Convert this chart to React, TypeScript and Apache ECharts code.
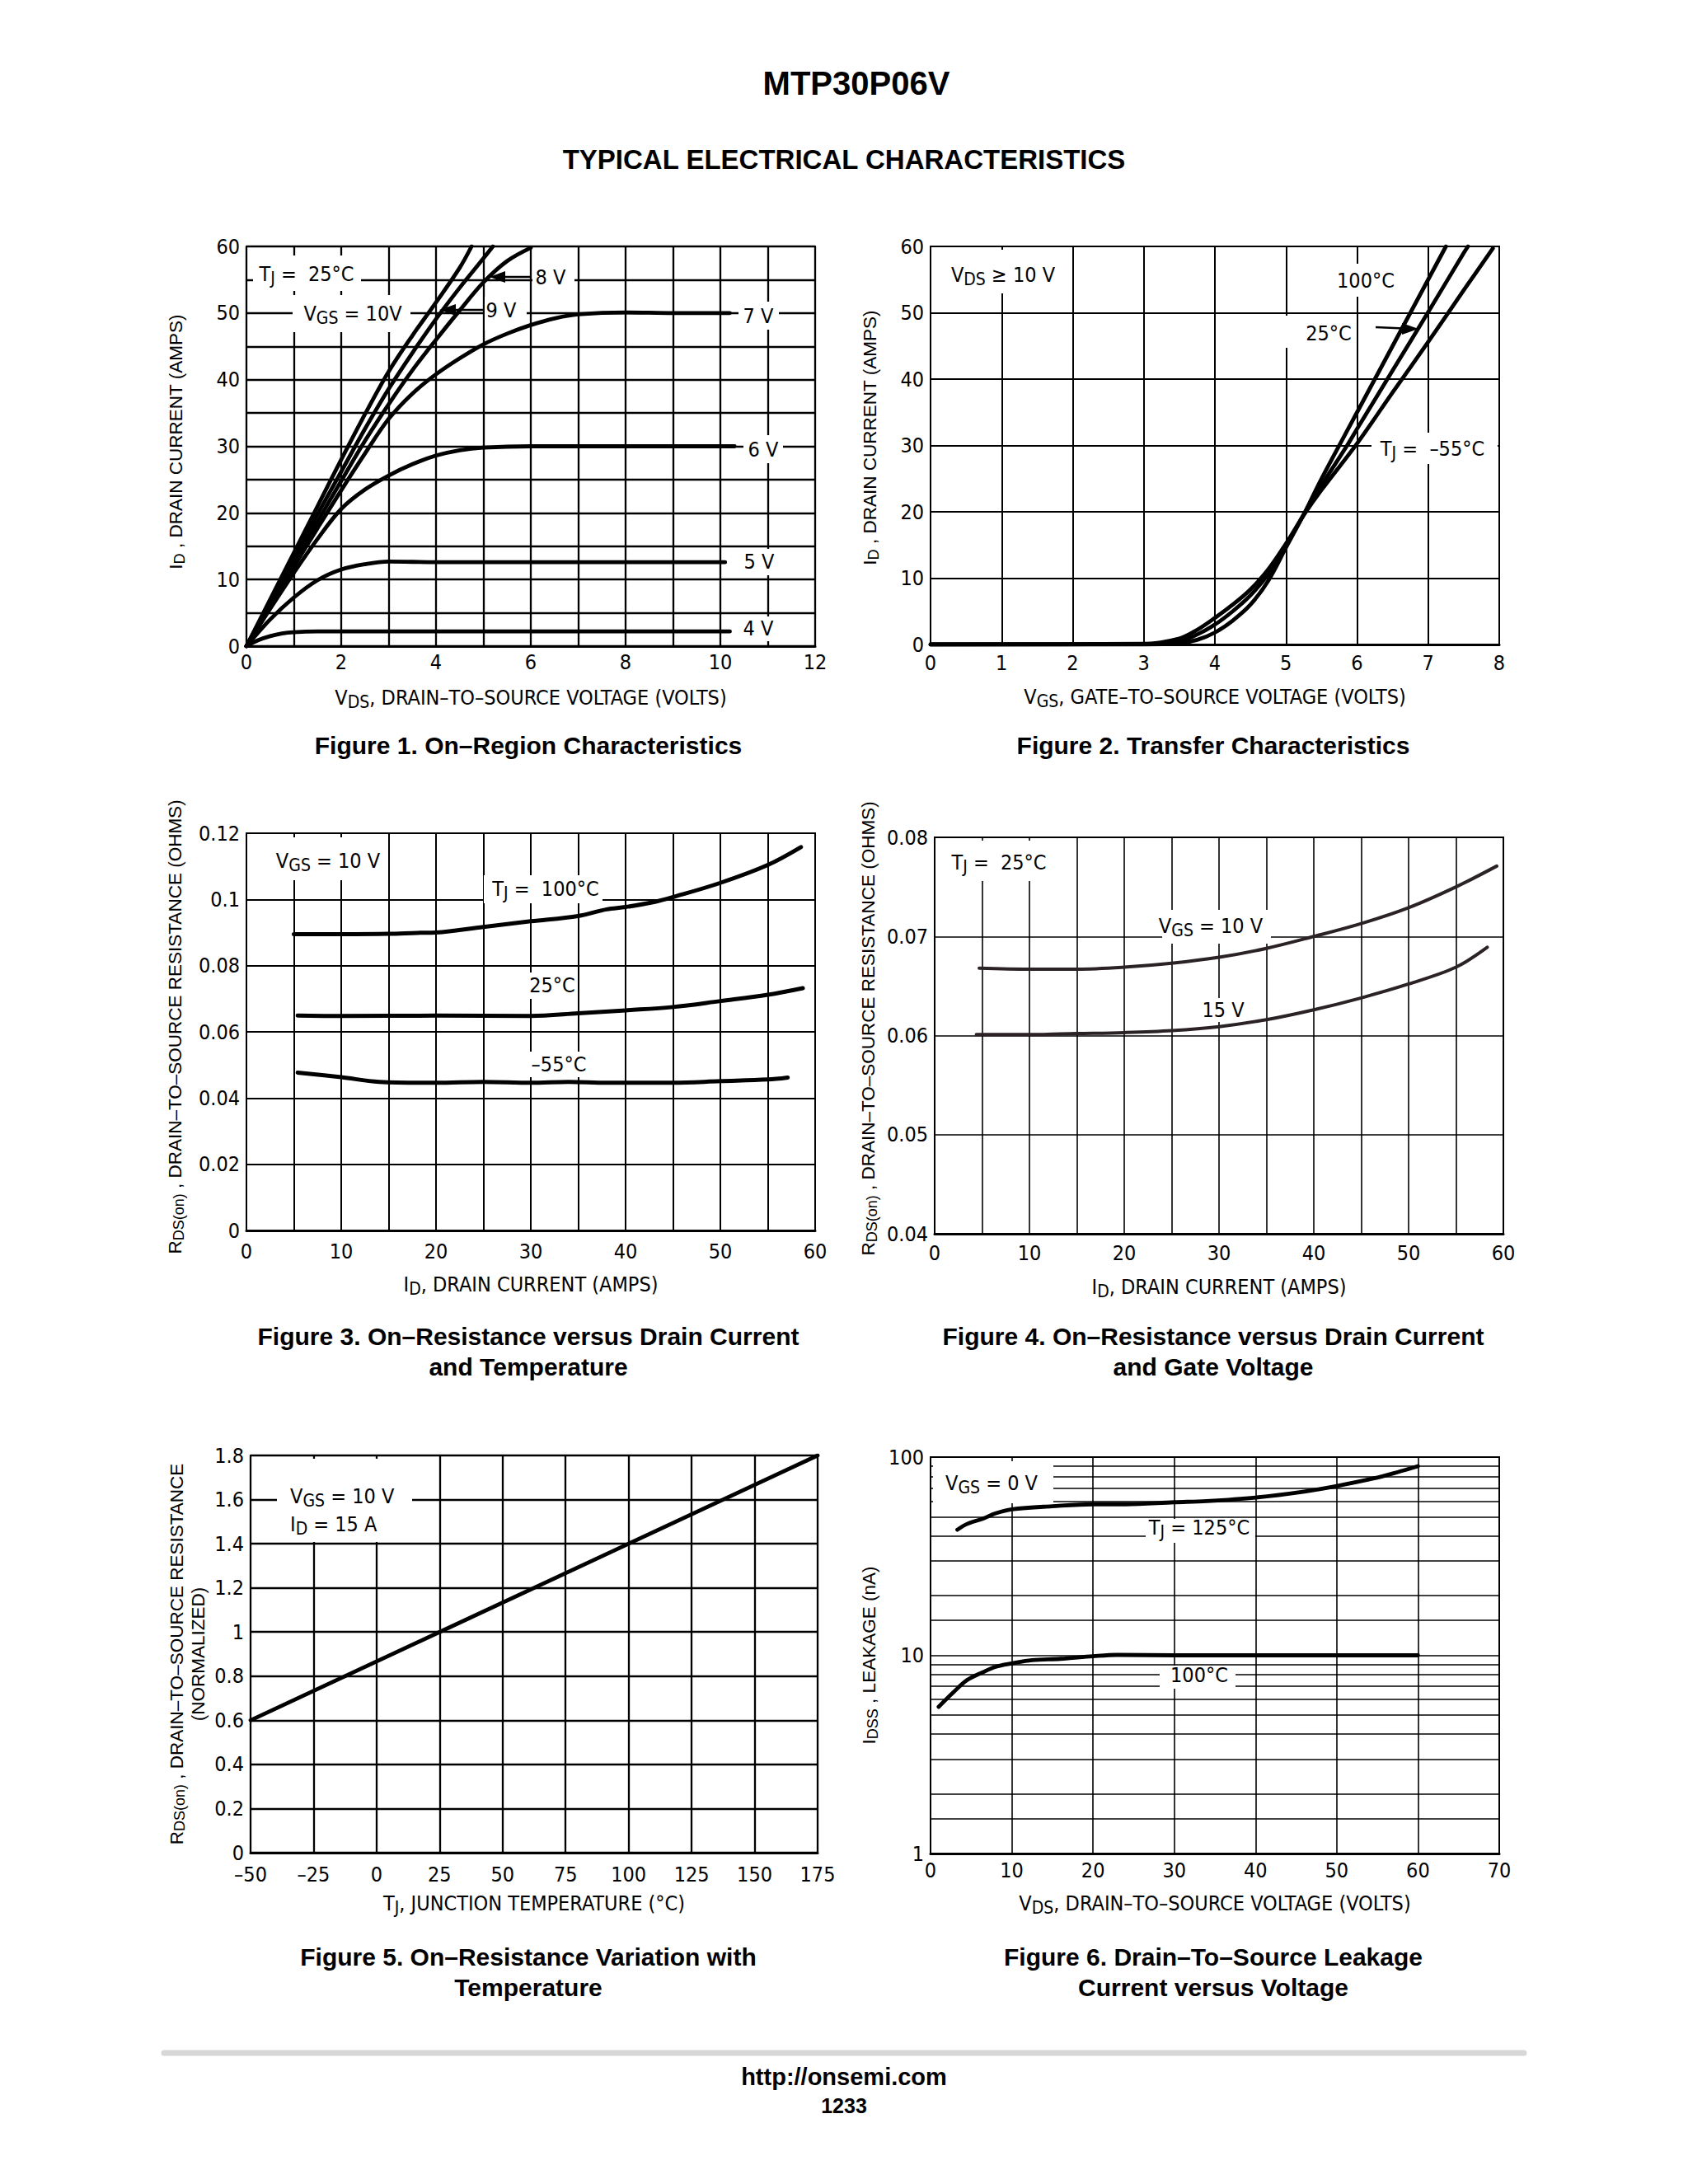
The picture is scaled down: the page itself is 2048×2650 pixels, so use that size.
import React, { useEffect, useRef } from 'react';
import * as echarts from 'echarts';

const NARROW = "'Liberation Sans Narrow', 'Arial Narrow', 'DejaVu Sans Condensed', 'Liberation Sans', Arial, sans-serif";
const REG = "'Liberation Sans', Arial, Helvetica, sans-serif";
const INK = '#000';

// ---------- Figure 1: On-Region Characteristics (VDS V, ID A) ----------
const fig1Vgs10 = [[0,0],[0.5,7],[1,14],[1.5,21],[2,28],[2.5,34.8],[3,41.2],[3.5,46.6],[4,51.6],[4.5,56.8],[4.75,60]];
const fig1Vgs9 = [[0,0],[0.5,6.6],[1,13.2],[1.5,19.8],[2,26.2],[2.5,32.6],[3,38.6],[3.5,44],[4,49.1],[4.5,53.8],[5,58.2],[5.2,60]];
const fig1Vgs8 = [[0,0],[0.5,6.3],[1,12.5],[1.5,18.7],[2,24.8],[2.5,30.8],[3,36.3],[3.5,41.4],[4,46],[4.5,50.4],[5,54.6],[5.5,57.8],[6,59.8]];
const fig1Vgs7 = [[0,0],[0.5,6],[1,11.9],[1.5,17.7],[2,23.4],[2.5,28.9],[3,34.1],[3.5,37.9],[4,40.8],[4.5,43.2],[5,45.3],[5.5,46.9],[6,48.2],[6.5,49.2],[7,49.8],[8,50.1],[9,50],[10.2,50]];
const fig1Vgs6 = [[0,0],[0.5,5.6],[1,11],[1.5,16.1],[2,20.6],[2.5,23.5],[3,25.6],[3.5,27.3],[4,28.6],[4.5,29.4],[5,29.8],[6,30],[8,30],[10.3,30]];
const fig1Vgs5 = [[0,0],[0.5,4],[1,7.3],[1.5,9.9],[2,11.5],[2.5,12.3],[3,12.7],[4,12.6],[10.1,12.6]];
const fig1Vgs4 = [[0,0],[0.25,0.9],[0.5,1.5],[0.75,1.9],[1,2.1],[1.5,2.2],[10.2,2.2]];

// ---------- Figure 2: Transfer Characteristics (VGS V, ID A) ----------
const fig2T100 = [[0,0],[3,0],[3.5,0.2],[3.75,0.7],[4,1.8],[4.25,3.6],[4.5,6],[4.75,9.6],[5,14.6],[5.25,19.6],[5.5,25],[6,35],[6.5,45],[7,55],[7.25,60]];
const fig2T25 = [[0,0],[3,0.05],[3.5,0.5],[3.75,1.5],[4,3],[4.25,5],[4.5,7.4],[4.75,10.6],[5,14.9],[5.25,19.6],[5.5,24],[5.86,30],[6,32.5],[6.5,41.3],[7,50.1],[7.5,59],[7.56,60]];
const fig2Tm55 = [[0,0],[3,0.1],[3.5,0.9],[3.75,2.2],[4,4],[4.25,6],[4.5,8.3],[4.75,11.3],[5,15.2],[5.25,19.5],[5.5,23.3],[6,30.3],[6.5,38],[7,45.6],[7.5,53.4],[7.91,59.7]];

// ---------- Figure 3: RDS(on) vs ID and temperature ----------
const fig3T100 = [[5,0.0895],[10,0.0895],[15,0.0896],[18,0.0899],[20,0.09],[25,0.0917],[30,0.0934],[35,0.095],[38,0.097],[40,0.0977],[43,0.0992],[45,0.1007],[50,0.105],[55,0.1104],[58.5,0.1158]];
const fig3T25 = [[5.4,0.0649],[10,0.0648],[20,0.0649],[30,0.0648],[35,0.0656],[40,0.0665],[45,0.0675],[50,0.0693],[55,0.0712],[58.7,0.0732]];
const fig3Tm55 = [[5.4,0.0477],[10,0.0463],[14,0.0449],[20,0.0446],[25,0.0449],[30,0.0446],[34,0.0449],[38,0.0446],[45,0.0446],[50,0.0451],[55,0.0456],[57.1,0.0462]];

// ---------- Figure 4: RDS(on) vs ID and gate voltage ----------
const fig4Vgs10 = [[4.7,0.0668],[10,0.0667],[15,0.0667],[20,0.0669],[25,0.0673],[30,0.0679],[35,0.0688],[40,0.07],[45,0.0713],[50,0.0729],[55,0.075],[59.3,0.0771]];
const fig4Vgs15 = [[4.4,0.0601],[10,0.0601],[15,0.0602],[20,0.0603],[25,0.0605],[30,0.0609],[35,0.0616],[40,0.0626],[45,0.0638],[50,0.0652],[55,0.0669],[58.3,0.0689]];

// ---------- Figure 5: normalized RDS(on) vs TJ ----------
const fig5Norm = [[-50,0.6],[25,1.0],[100,1.4],[175,1.8]];

// ---------- Figure 6: IDSS leakage vs VDS (log) ----------
const fig6T125 = [[3.3,43],[4.5,46],[6.5,49],[8,52],[10,54.5],[15,56.5],[20,57.8],[24,57.8],[30,59.2],[34,60],[40,62.5],[46,67],[50,71.5],[54.5,78],[57.5,84],[60,90]];
const fig6T100 = [[1,5.5],[2.8,6.5],[4.5,7.5],[6.4,8.2],[8,8.75],[10,9.1],[12.5,9.45],[16,9.6],[20,9.9],[23,10.05],[30,10],[40,10],[50,10],[60,10]];
const fig6MinorGrid = [1.5,2,3,4,5,6,7,8,9,15,20,30,40,50,60,70,80,90];

// axis ranges [min, max, interval]
const fig1X = [0, 12, 1], fig1Y = [0, 60, 5];
const fig2X = [0, 8, 1], fig2Y = [0, 60, 10];
const fig3X = [0, 60, 5], fig3Y = [0, 0.12, 0.02];
const fig4X = [0, 60, 5], fig4Y = [0.04, 0.08, 0.01];
const fig5X = [-50, 175, 25], fig5Y = [0, 1.8, 0.2];
const fig6X = [0, 70, 10], fig6Y = [1, 100];

const GRIDS = [
  { left: 299, top: 299, width: 690, height: 485 },
  { left: 1129, top: 299, width: 690, height: 483 },
  { left: 299, top: 1011, width: 690, height: 482 },
  { left: 1134, top: 1016, width: 690, height: 481 },
  { left: 304, top: 1766, width: 688, height: 482 },
  { left: 1129, top: 1768, width: 690, height: 481 },
];

const TICK_FS = 25;

const RICH_G: any = {
  n: { fontFamily: NARROW, fontSize: 25, lineHeight: 32, verticalAlign: 'middle', fill: INK, color: INK },
  s: { fontFamily: NARROW, fontSize: 21, lineHeight: 20, verticalAlign: 'bottom', fill: INK, color: INK },
};
const RICH_Y: any = {
  n: { fontFamily: REG, fontSize: 22.5, lineHeight: 28, verticalAlign: 'middle', color: INK },
  s: { fontFamily: REG, fontSize: 18, lineHeight: 16, verticalAlign: 'bottom', color: INK },
};
const RICH_Y2: any = {
  n: { fontFamily: REG, fontSize: 22.5, lineHeight: 26, verticalAlign: 'middle', color: INK },
  s: { fontFamily: REG, fontSize: 18, lineHeight: 14, verticalAlign: 'bottom', color: INK },
};

const sub = (a: string, s: string, b: string) => `{n|${a}}{s|${s}}{n|${b}}`;

function xAx(gi: number, r: number[], fmt: any, name: string, nameGap: number, margin: number, gw: number) {
  return {
    type: 'value', gridIndex: gi, min: r[0], max: r[1], interval: r[2],
    axisLine: { show: true, onZero: false, lineStyle: { color: INK, width: 3 } },
    axisTick: { show: false },
    splitLine: { show: true, lineStyle: { color: INK, width: gw } },
    axisLabel: { formatter: fmt, color: INK, fontFamily: NARROW, fontSize: TICK_FS, margin, showMinLabel: true, showMaxLabel: true },
    name, nameLocation: 'middle', nameGap, nameMoveOverlap: false,
    nameTextStyle: { rich: RICH_G, color: INK, fontFamily: NARROW, fontSize: 25 },
  };
}
function yAx(gi: number, r: number[], fmt: any, name: string, nameGap: number, gw: number, padUp: number, rich: any, log = false) {
  const base: any = {
    type: log ? 'log' : 'value', gridIndex: gi, min: r[0], max: r[1],
    axisLine: { show: true, onZero: false, lineStyle: { color: INK, width: 2 } },
    axisTick: { show: false },
    splitLine: { show: true, lineStyle: { color: INK, width: gw } },
    axisLabel: { formatter: fmt, color: INK, fontFamily: NARROW, fontSize: TICK_FS, lineHeight: 22, margin: 8, showMinLabel: true, showMaxLabel: true },
    name, nameLocation: 'middle', nameGap, nameRotate: 90, nameMoveOverlap: false,
    nameTextStyle: { rich, color: INK, fontFamily: REG, fontSize: 22.5, padding: [0, 0, 0, padUp] },
  };
  if (log) base.logBase = 10; else base.interval = r[2];
  return base;
}

const evenOnly = (step: number) => (v: number) => (Math.round(v) % step === 0 ? String(Math.round(v)) : '');
const trimNum = (v: number) => String(parseFloat(v.toFixed(3)));

function line(gi: number, data: number[][], width: number, color = INK, smooth: any = 0.35) {
  return {
    type: 'line', xAxisIndex: gi, yAxisIndex: gi, data, showSymbol: false, symbol: 'none',
    smooth, silent: true, z: 3,
    lineStyle: { color, width, cap: 'round', join: 'round' },
  };
}

const box = (x: number, y: number, w: number, h: number) => ({
  type: 'rect', z: 2, silent: true, shape: { x, y, width: w, height: h }, style: { fill: '#fff' },
});
const txt = (x: number, y: number, text: string, align = 'center') => ({
  type: 'text', z: 10, silent: true, x, y,
  style: { text, rich: RICH_G, align, verticalAlign: 'middle', fill: INK, fontFamily: NARROW, fontSize: 25 },
});
const arrow = (x1: number, x2: number, y1: number, y2: number, tipX: number, tipY: number) => [
  { type: 'line', z: 10, silent: true, shape: { x1, y1, x2, y2 }, style: { stroke: INK, lineWidth: 2.5 } },
  { type: 'polygon', z: 10, silent: true, shape: { points: [[tipX, tipY], [x1 + (x1 < x2 ? 2 : -2), tipY - 7], [x1 + (x1 < x2 ? 2 : -2), tipY + 7]] }, style: { fill: INK } },
];

function buildOption() {
  const capStyle = (size: number, lh: number) => ({ fontFamily: REG, fontWeight: 'bold', fontSize: size, lineHeight: lh, color: INK });
  const cap = (text: string, left: number, top: number, size = 30, lh = 37) => ({
    text, left, top, textAlign: 'center', padding: 0, textStyle: capStyle(size, lh),
  });

  const graphic: any[] = [
    // Figure 1 labels
    box(307, 310, 131, 43), txt(372, 332, sub('T', 'J', ' =  25°C')),
    box(355, 358, 143, 45), txt(428, 380, sub('V', 'GS', ' = 10V')),
    box(646, 318, 51, 38), txt(668, 336, '{n|8 V}'),
    box(588, 360, 51, 41), txt(608, 376, '{n|9 V}'),
    ...arrow(611, 643, 336, 336, 594, 336),
    ...arrow(551, 587, 376, 376, 533, 376),
    box(896, 366, 49, 34), txt(920, 383, '{n|7 V}'),
    box(902, 528, 48, 34), txt(926, 545, '{n|6 V}'),
    box(900, 666, 46, 32), txt(921, 681, '{n|5 V}'),
    box(900, 748, 46, 30), txt(920, 762, '{n|4 V}'),
    // Figure 2 labels
    box(1140, 303, 152, 53), txt(1217, 333, sub('V', 'DS', ' ≥ 10 V')),
    box(1614, 320, 88, 40), txt(1657, 340, '{n|100°C}'),
    box(1559, 383, 87, 39), txt(1612, 404, '{n|25°C}'),
    ...arrow(1703, 1669, 398.5, 397, 1721, 399),
    box(1664, 525, 153, 38), txt(1738, 544, sub('T', 'J', ' =  –55°C')),
    // Figure 3 labels
    box(332, 1016, 133, 52), txt(398, 1044, sub('V', 'GS', ' = 10 V')),
    box(587, 1062, 144, 34), txt(662, 1078, sub('T', 'J', ' =  100°C')),
    box(638, 1180, 61, 32), txt(670, 1195, '{n|25°C}'),
    box(638, 1276, 74, 31), txt(678, 1291, '{n|–55°C}'),
    // Figure 4 labels
    box(1150, 1020, 122, 49), txt(1212, 1046, sub('T', 'J', ' =  25°C')),
    box(1410, 1104, 132, 41), txt(1469, 1123, sub('V', 'GS', ' = 10 V')),
    box(1458, 1211, 52, 29), txt(1484, 1225, '{n|15 V}'),
    // Figure 5 labels
    box(336, 1770, 164, 101),
    txt(352, 1815, sub('V', 'GS', ' = 10 V'), 'left'),
    txt(352, 1849, sub('I', 'D', ' = 15 A'), 'left'),
    // Figure 6 labels
    box(1132, 1773, 146, 51), txt(1203, 1799, sub('V', 'GS', ' = 0 V')),
    box(1390, 1843, 133, 29), txt(1455, 1853, sub('T', 'J', ' = 125°C')),
    box(1407, 2021, 92, 28), txt(1455, 2032, '{n|100°C}'),
    // footer rule
    { type: 'line', z: 1, silent: true, shape: { x1: 199, y1: 2491, x2: 1849, y2: 2491 }, style: { stroke: '#d7d7d7', lineWidth: 7, lineCap: 'round' } },
  ];

  return {
    animation: false,
    backgroundColor: '#fff',
    title: [
      cap('MTP30P06V', 1039, 77, 40, 48),
      cap('TYPICAL ELECTRICAL CHARACTERISTICS', 1024, 173, 33, 40),
      cap('Figure 1. On–Region Characteristics', 641, 886),
      cap('Figure 2. Transfer Characteristics', 1472, 886),
      cap('Figure 3. On–Resistance versus Drain Current\nand Temperature', 641, 1603),
      cap('Figure 4. On–Resistance versus Drain Current\nand Gate Voltage', 1472, 1603),
      cap('Figure 5. On–Resistance Variation with\nTemperature', 641, 2356),
      cap('Figure 6. Drain–To–Source Leakage\nCurrent versus Voltage', 1472, 2356),
      cap('http://onsemi.com', 1024, 2503, 29, 34),
      cap('1233', 1024, 2540, 25, 30),
    ],
    grid: GRIDS.map((g) => ({ ...g, show: true, borderColor: INK, borderWidth: 2, containLabel: false, outerBoundsMode: 'none' })),
    xAxis: [
      xAx(0, fig1X, evenOnly(2), sub('V', 'DS', ', DRAIN–TO–SOURCE VOLTAGE (VOLTS)'), 46, 7, 2.3),
      xAx(1, fig2X, (v: number) => String(v), sub('V', 'GS', ', GATE–TO–SOURCE VOLTAGE (VOLTS)'), 47, 10, 2),
      xAx(2, fig3X, evenOnly(10), sub('I', 'D', ', DRAIN CURRENT (AMPS)'), 49, 13, 2),
      xAx(3, fig4X, evenOnly(10), sub('I', 'D', ', DRAIN CURRENT (AMPS)'), 48, 11, 1.6),
      xAx(4, fig5X, (v: number) => (v < 0 ? '–' + Math.abs(v) : String(v)), sub('T', 'J', ', JUNCTION TEMPERATURE (°C)'), 45, 14, 2.3),
      xAx(5, fig6X, (v: number) => String(v), sub('V', 'DS', ', DRAIN–TO–SOURCE VOLTAGE (VOLTS)'), 44, 8, 1.6),
    ],
    yAxis: [
      yAx(0, fig1Y, evenOnly(10), sub('I', 'D', ' , DRAIN CURRENT (AMPS)'), 72, 2.3, 11, RICH_Y),
      yAx(1, fig2Y, (v: number) => String(v), sub('I', 'D', ' , DRAIN CURRENT (AMPS)'), 60, 2, 19, RICH_Y),
      yAx(2, fig3Y, trimNum, sub('R', 'DS(on)', ' , DRAIN–TO–SOURCE RESISTANCE (OHMS)'), 73, 2, 12, RICH_Y),
      yAx(3, fig4Y, (v: number) => v.toFixed(2), sub('R', 'DS(on)', ' , DRAIN–TO–SOURCE RESISTANCE (OHMS)'), 67, 1.6, 17, RICH_Y),
      yAx(4, fig5Y, trimNum, sub('R', 'DS(on)', ' , DRAIN–TO–SOURCE RESISTANCE') + '\n{n|(NORMALIZED)}', 51, 2.3, 0, RICH_Y2),
      yAx(5, fig6Y, (v: number) => String(v), sub('I', 'DSS', ' , LEAKAGE (nA)'), 61, 1.6, 0, RICH_Y, true),
    ],
    series: [
      line(0, fig1Vgs10, 4.8), line(0, fig1Vgs9, 4.8), line(0, fig1Vgs8, 4.8), line(0, fig1Vgs7, 4.8),
      line(0, fig1Vgs6, 4.8), line(0, fig1Vgs5, 4.8), line(0, fig1Vgs4, 4.8),
      line(1, fig2T100, 4.8), line(1, fig2T25, 4.8), line(1, fig2Tm55, 4.8),
      line(2, fig3T100, 5), line(2, fig3T25, 5), line(2, fig3Tm55, 5),
      line(3, fig4Vgs10, 4, '#2b2226'), line(3, fig4Vgs15, 4, '#2b2226'),
      line(4, fig5Norm, 4.8, INK, false),
      {
        ...line(5, fig6T125, 4.8),
        markLine: {
          z: 1, silent: true, symbol: 'none', label: { show: false },
          lineStyle: { color: INK, width: 1.6, type: 'solid' },
          emphasis: { disabled: true },
          data: fig6MinorGrid.map((v) => ({ yAxis: v })),
        },
      },
      line(5, fig6T100, 4.8),
    ],
    graphic,
  };
}

export default function App() {
  const ref = useRef<HTMLDivElement>(null);
  useEffect(() => {
    document.body.style.margin = '0';
    const chart = echarts.init(ref.current as HTMLDivElement, null, { renderer: 'svg' });
    chart.setOption(buildOption() as any);
    return () => chart.dispose();
  }, []);
  return <div ref={ref} style={{ position: 'absolute', left: 0, top: 0, width: 2048, height: 2650, background: '#fff' }} />;
}
